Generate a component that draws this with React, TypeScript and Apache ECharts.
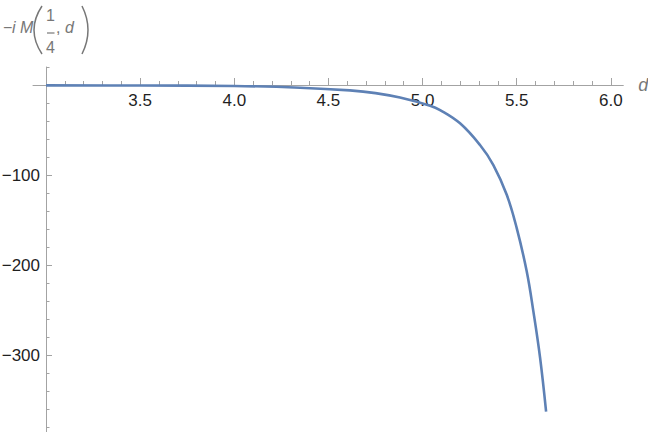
import React, { useEffect, useRef } from "react";
import * as echarts from "echarts";

// Data
const dValues = [3.0, 3.5, 4.0, 4.35, 4.614, 4.75, 4.88, 5.04, 5.093, 5.199, 5.305, 5.376, 5.447, 5.5, 5.553, 5.588, 5.624, 5.656];
const mValues = [-0.4, -0.6, -1.1, -3.0, -6.0, -9, -14, -23, -27.8, -42.6, -66.7, -88.9, -122, -159, -207, -251, -303, -363];

// Axis ticks / labels
const xMajorTicks = [3.5, 4.0, 4.5, 5.0, 5.5, 6.0];
const xMinorTicks = [3.1, 3.2, 3.3, 3.4, 3.6, 3.7, 3.8, 3.9, 4.1, 4.2, 4.3, 4.4, 4.6, 4.7, 4.8, 4.9, 5.1, 5.2, 5.3, 5.4, 5.6, 5.7, 5.8, 5.9];
const yMajorTicks = [-300, -200, -100, 0];
const yLabelValues = [-300, -200, -100];
const yMinorTicks = [-380, -360, -340, -320, -280, -260, -240, -220, -180, -160, -140, -120, -80, -60, -40, -20, 20];

const X_MIN = 2.931;
const X_MAX = 6.066;
const Y_MIN = -400;
const Y_MAX = 20;

const AXIS_COLOR = "#a3a3a3";
const LABEL_COLOR = "#1f1f1f";
const NAME_COLOR = "#777777";
const FONT = "'Liberation Sans', Arial, sans-serif";

export default function App() {
  const ref = useRef<HTMLDivElement>(null);

  useEffect(() => {
    if (!ref.current) return;
    const chart = echarts.init(ref.current, null, { renderer: "svg", width: 648, height: 432 });
    const lineStyle = { color: AXIS_COLOR, width: 1 };
    chart.setOption({
      animation: false,
      backgroundColor: "#ffffff",
      grid: [
        // grid 0: holds the horizontal axis, its bottom edge is the y = 0 line
        { left: 33, right: 24.7, top: 67, height: 18, containLabel: false, outerBoundsMode: "none" },
        // grid 1: the plot area
        { left: 33, right: 24.7, top: 67, bottom: -13, containLabel: false, outerBoundsMode: "none" },
      ],
      xAxis: [
        {
          type: "value",
          gridIndex: 0,
          position: "bottom",
          min: X_MIN,
          max: X_MAX,
          name: "d",
          nameLocation: "end",
          nameGap: 15,
          nameTextStyle: { color: NAME_COLOR, fontStyle: "italic", fontSize: 18, fontFamily: FONT },
          axisLine: { show: true, onZero: false, lineStyle },
          axisTick: { show: true, inside: true, length: 7, customValues: xMajorTicks, lineStyle },
          axisLabel: {
            show: true,
            customValues: xMajorTicks,
            formatter: (v: number) => v.toFixed(1),
            color: LABEL_COLOR,
            fontSize: 17,
            fontFamily: FONT,
            margin: 7,
          },
          splitLine: { show: false },
        },
        {
          type: "value",
          gridIndex: 0,
          position: "bottom",
          min: X_MIN,
          max: X_MAX,
          axisLine: { show: false, onZero: false },
          axisTick: { show: true, inside: true, length: 4, customValues: xMinorTicks, lineStyle },
          axisLabel: { show: false },
          splitLine: { show: false },
        },
        {
          type: "value",
          gridIndex: 1,
          min: X_MIN,
          max: X_MAX,
          show: false,
          axisLine: { show: false, onZero: false },
          axisTick: { show: false },
          axisLabel: { show: false },
          splitLine: { show: false },
        },
      ],
      yAxis: [
        {
          type: "value",
          gridIndex: 0,
          min: 0,
          max: 1,
          show: false,
          axisLine: { show: false, onZero: false },
          axisTick: { show: false },
          axisLabel: { show: false },
          splitLine: { show: false },
        },
        {
          type: "value",
          gridIndex: 1,
          min: Y_MIN,
          max: Y_MAX,
          position: "left",
          offset: -13,
          axisLine: { show: true, onZero: false, lineStyle },
          axisTick: { show: true, inside: true, length: 6, customValues: yMajorTicks, lineStyle },
          axisLabel: {
            show: true,
            customValues: yLabelValues,
            formatter: (v: number) => (v < 0 ? "\u2212" + Math.abs(v) : String(v)),
            color: LABEL_COLOR,
            fontSize: 17,
            fontFamily: FONT,
            margin: 6,
          },
          splitLine: { show: false },
        },
        {
          type: "value",
          gridIndex: 1,
          min: Y_MIN,
          max: Y_MAX,
          position: "left",
          offset: -13,
          axisLine: { show: false, onZero: false },
          axisTick: { show: true, inside: true, length: 3.5, customValues: yMinorTicks, lineStyle },
          axisLabel: { show: false },
          splitLine: { show: false },
        },
      ],
      graphic: [
        {
          type: "group",
          silent: true,
          children: [
            {
              type: "text",
              style: { text: "\u2212", x: 3, y: 27.5, font: `16px ${FONT}`, fill: NAME_COLOR, textAlign: "left", textVerticalAlign: "middle" },
            },
            {
              type: "text",
              style: { text: "i M", x: 12, y: 27.5, font: `italic 16px ${FONT}`, fill: NAME_COLOR, textAlign: "left", textVerticalAlign: "middle" },
            },
            {
              type: "bezierCurve",
              shape: { x1: 42, y1: 6, cpx1: 26, cpy1: 30, x2: 42, y2: 54 },
              style: { stroke: NAME_COLOR, lineWidth: 1.5, fill: "none" },
            },
            {
              type: "text",
              style: { text: "1", x: 50.5, y: 15.2, font: `16px ${FONT}`, fill: NAME_COLOR, textAlign: "center", textVerticalAlign: "middle" },
            },
            {
              type: "line",
              shape: { x1: 47, y1: 33, x2: 54.5, y2: 33 },
              style: { stroke: NAME_COLOR, lineWidth: 1.2 },
            },
            {
              type: "text",
              style: { text: "4", x: 50.5, y: 47.2, font: `16px ${FONT}`, fill: NAME_COLOR, textAlign: "center", textVerticalAlign: "middle" },
            },
            {
              type: "text",
              style: { text: ",", x: 56, y: 27.5, font: `16px ${FONT}`, fill: NAME_COLOR, textAlign: "left", textVerticalAlign: "middle" },
            },
            {
              type: "text",
              style: { text: "d", x: 65, y: 27.5, font: `italic 16px ${FONT}`, fill: NAME_COLOR, textAlign: "left", textVerticalAlign: "middle" },
            },
            {
              type: "bezierCurve",
              shape: { x1: 82, y1: 6, cpx1: 94, cpy1: 30, x2: 82, y2: 54 },
              style: { stroke: NAME_COLOR, lineWidth: 1.5, fill: "none" },
            },
          ],
        },
      ],
      series: [
        {
          type: "line",
          xAxisIndex: 2,
          yAxisIndex: 1,
          data: dValues.map((d, i) => [d, mValues[i]]),
          showSymbol: false,
          symbol: "none",
          smooth: 0.4,
          silent: true,
          lineStyle: { color: "#5E81B5", width: 2.6 },
          z: 5,
        },
      ],
    });
    return () => chart.dispose();
  }, []);

  return (
    <div
      ref={ref}
      style={{ position: "fixed", left: 0, top: 0, width: 648, height: 432, overflow: "hidden", background: "#fff" }}
    />
  );
}
